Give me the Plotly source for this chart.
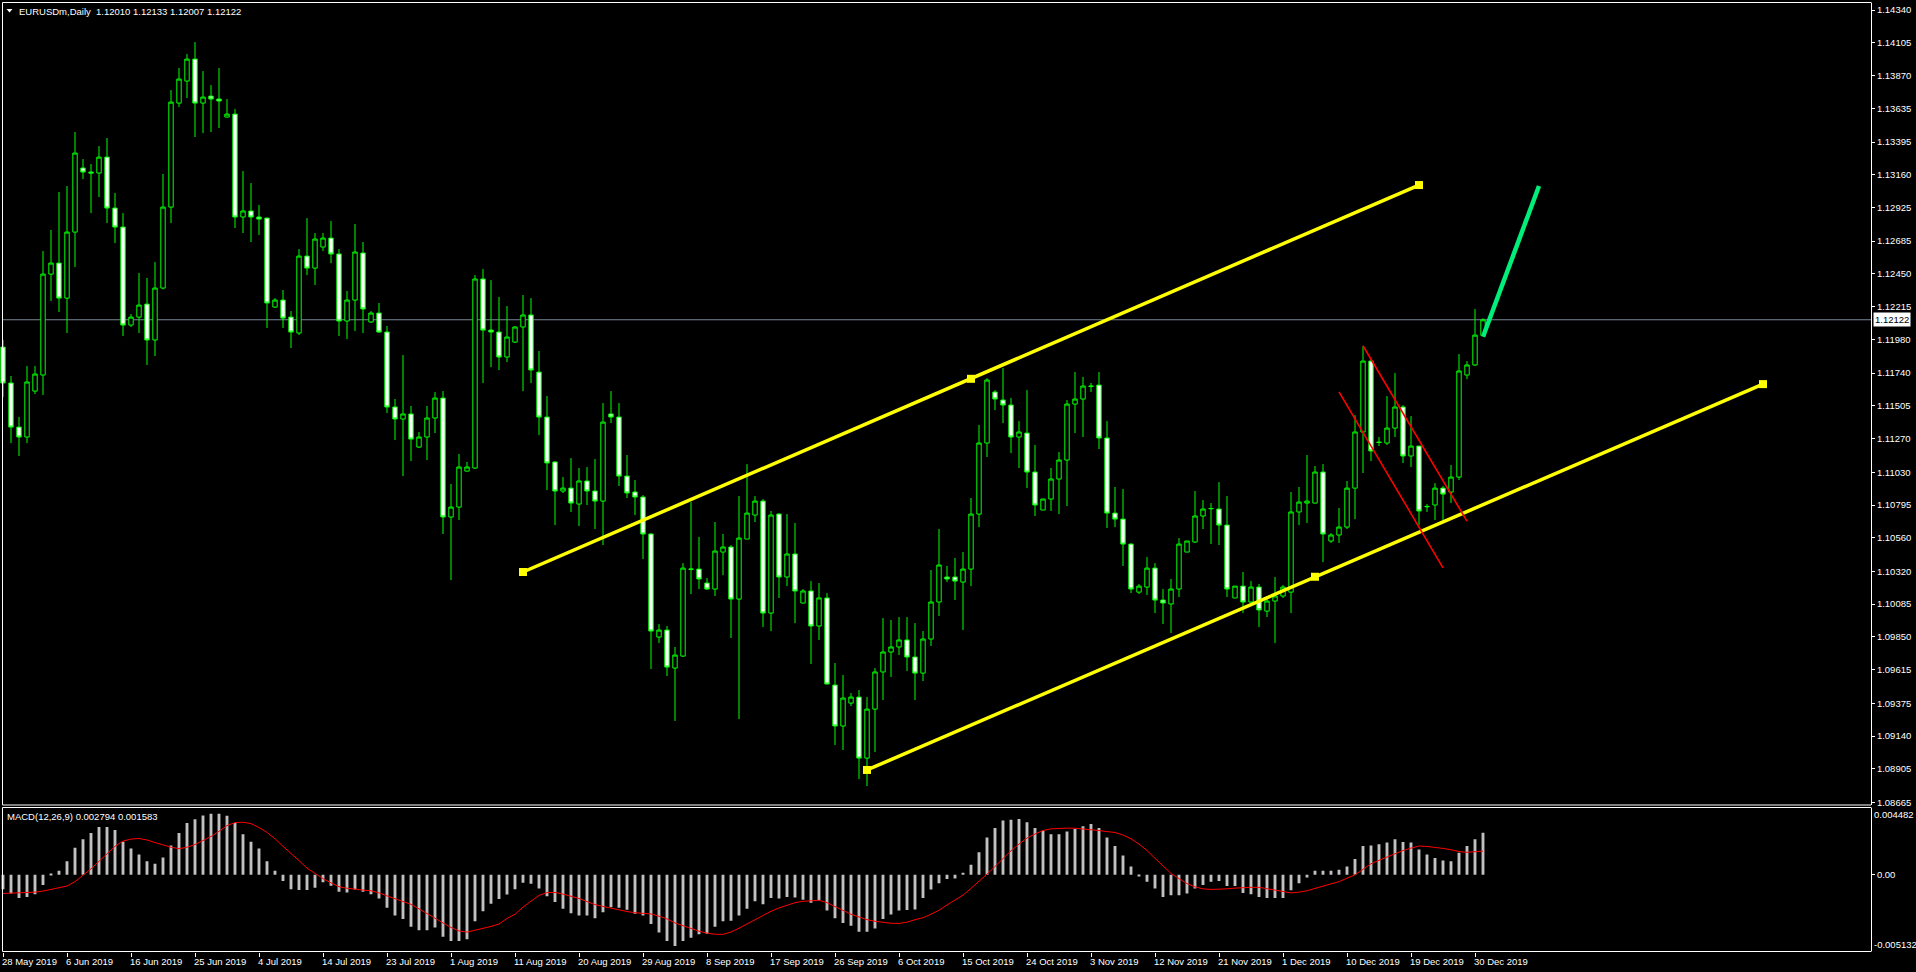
import plotly.graph_objects as go
import pandas as pd

# ---------------- data ----------------
SYMBOL_TITLE = "EURUSDm,Daily\u00a0\u00a01.12010 1.12133 1.12007 1.12122"
MACD_TITLE = "MACD(12,26,9) 0.002794 0.001583"

# broker daily bars: Sunday..Friday, no bar on 25 Dec
_days = pd.date_range("2019-05-28", "2019-12-31", freq="D")
DATES = [d for d in _days if d.weekday() != 5 and not (d.month == 12 and d.day == 25)]
DATE_LABELS = [f"{d.day} {d.strftime('%b')} {d.year}" for d in DATES]
TICK_BARS = list(range(0, len(DATES), 8))

OPEN = [1.11926,1.11669,1.11353,1.11282,1.11611,1.11726,1.12449,1.12528,1.12277,1.12750,
1.13209,1.13180,1.13173,1.13287,1.12922,1.12786,1.12084,1.12141,1.12234,1.11977,
1.12349,1.12929,1.13674,1.13832,1.13989,1.13674,1.13724,1.13703,1.13574,1.13595,
1.12858,1.12901,1.12858,1.12850,1.12213,1.12263,1.12141,1.12027,1.12578,1.12492,
1.12643,1.12707,1.12593,1.12113,1.12263,1.12600,1.12106,1.12170,1.12034,1.11497,
1.11411,1.11447,1.11210,1.11282,1.11418,1.11561,1.10709,1.10780,1.11038,1.11060,
1.12414,1.12048,1.12034,1.11855,1.11962,1.12070,1.12156,1.11747,1.11425,1.11103,
1.10895,1.10916,1.10802,1.10967,1.10895,1.10823,1.11447,1.11425,1.11002,1.10888,
1.10852,1.10587,1.09849,1.09899,1.09627,1.09713,1.10336,1.10336,1.10236,1.10193,
1.10458,1.10494,1.10121,1.10551,1.10723,1.10823,1.10021,1.10730,1.10279,1.10444,
1.10093,1.10179,1.09928,1.10129,1.09505,1.09212,1.09376,1.09419,1.08982,1.09333,
1.09599,1.09742,1.09778,1.09828,1.09706,1.09591,1.09835,1.10100,1.10279,1.10279,
1.10243,1.10336,1.10730,1.11239,1.11604,1.11547,1.11511,1.11282,1.11310,1.11031,
1.10759,1.10838,1.10981,1.11117,1.11518,1.11554,1.11647,1.11654,1.11275,1.10737,
1.10694,1.10515,1.10171,1.10207,1.10343,1.10114,1.10086,1.10193,1.10458,1.10530,
1.10716,1.10770,1.10766,1.10651,1.10129,1.10214,1.10100,1.10207,1.10035,1.10107,
1.10143,1.10171,1.10745,1.10809,1.10809,1.11031,1.10537,1.10580,1.10637,1.10916,
1.11318,1.11826,1.11246,1.11239,1.11346,1.11497,1.11146,1.11217,1.10785,1.10795,
1.10916,1.10888,1.10995,1.11726,1.11798,1.12010]

HIGH = [1.11977,1.11719,1.11425,1.11790,1.11790,1.12614,1.12765,1.13037,1.13080,1.13467,
1.13273,1.13237,1.13366,1.13424,1.13030,1.12886,1.12163,1.12457,1.12421,1.12535,
1.13166,1.13767,1.13925,1.14025,1.14111,1.13903,1.13803,1.13925,1.13703,1.13631,
1.13187,1.13101,1.12944,1.12855,1.12277,1.12335,1.12184,1.12628,1.12850,1.12743,
1.12743,1.12829,1.12628,1.12328,1.12808,1.12679,1.12184,1.12242,1.12077,1.11554,
1.11869,1.11504,1.11318,1.11504,1.11604,1.11611,1.10945,1.11160,1.11103,1.12442,
1.12485,1.12406,1.12285,1.12220,1.12077,1.12299,1.12277,1.11898,1.11575,1.11110,
1.10995,1.11131,1.11060,1.11067,1.11124,1.11525,1.11611,1.11525,1.11153,1.10974,
1.10866,1.10594,1.09942,1.09928,1.09778,1.10379,1.10816,1.10566,1.10272,1.10673,
1.10587,1.10508,1.10859,1.11088,1.10859,1.10838,1.10752,1.10737,1.10730,1.10666,
1.10193,1.10250,1.10236,1.10164,1.09663,1.09577,1.09448,1.09470,1.09419,1.09627,
1.09985,1.09971,1.09992,1.09992,1.09949,1.09892,1.10329,1.10623,1.10358,1.10415,
1.10458,1.10845,1.11368,1.11704,1.11618,1.11776,1.11561,1.11396,1.11618,1.11225,
1.10838,1.11060,1.11174,1.11547,1.11747,1.11712,1.11669,1.11747,1.11396,1.10924,
1.10909,1.10520,1.10229,1.10422,1.10379,1.10193,1.10265,1.10558,1.10537,1.10895,
1.10830,1.10809,1.10959,1.10859,1.10214,1.10315,1.10250,1.10229,1.10136,1.10279,
1.10222,1.10888,1.10924,1.11153,1.11074,1.11088,1.10594,1.10773,1.10967,1.11439,
1.11934,1.11840,1.11282,1.11575,1.11740,1.11511,1.11432,1.11220,1.10802,1.10952,
1.10931,1.11081,1.11876,1.11826,1.12199,1.12133]

LOW = [1.11568,1.11239,1.11146,1.11239,1.11590,1.11583,1.12256,1.12177,1.12027,1.12500,
1.13130,1.12886,1.13001,1.12815,1.12671,1.12005,1.12070,1.12027,1.11798,1.11862,
1.12340,1.12815,1.13646,1.13710,1.13431,1.13459,1.13467,1.13495,1.13570,1.12779,
1.12743,1.12679,1.12729,1.12063,1.12206,1.12063,1.11919,1.12012,1.12442,1.12371,
1.12614,1.12528,1.12005,1.11984,1.12041,1.12027,1.12100,1.12027,1.11454,1.11260,
1.11002,1.11110,1.11203,1.11117,1.11310,1.10587,1.10257,1.10687,1.11035,1.11053,
1.11669,1.11783,1.11762,1.11819,1.11955,1.11611,1.11669,1.11296,1.10902,1.10651,
1.10881,1.10745,1.10644,1.10795,1.10623,1.10508,1.11382,1.10931,1.10845,1.10723,
1.10408,1.09620,1.09806,1.09570,1.09248,1.09706,1.10157,1.10193,1.10186,1.10143,
1.10293,1.09842,1.09262,1.10551,1.10673,1.09921,1.09892,1.10129,1.10214,1.09949,
1.10090,1.09656,1.09828,1.09510,1.09076,1.09040,1.09355,1.08832,1.08782,1.09025,
1.09398,1.09563,1.09720,1.09606,1.09398,1.09534,1.09785,1.10000,1.10243,1.10114,
1.09899,1.10214,1.10637,1.11139,1.11475,1.11382,1.11167,1.11060,1.10916,1.10716,
1.10759,1.10752,1.10730,1.10788,1.11310,1.11282,1.11604,1.11196,1.10630,1.10637,
1.10358,1.10164,1.10157,1.10150,1.10021,1.09942,1.09878,1.10136,1.10458,1.10523,
1.10623,1.10515,1.10508,1.10136,1.10129,1.10021,1.10093,1.09921,1.09992,1.09806,
1.10129,1.10021,1.10651,1.10666,1.10805,1.10386,1.10523,1.10523,1.10623,1.10694,
1.11024,1.11110,1.11217,1.11225,1.11282,1.11096,1.11067,1.10651,1.10745,1.10687,
1.10687,1.10809,1.10974,1.11697,1.11790,1.12007]

CLOSE = [1.11669,1.11353,1.11282,1.11676,1.11733,1.12449,1.12528,1.12277,1.12750,1.13316,
1.13180,1.13173,1.13287,1.12922,1.12786,1.12084,1.12141,1.12227,1.11977,1.12349,
1.12929,1.13681,1.13846,1.13989,1.13674,1.13717,1.13703,1.13689,1.13595,1.12858,
1.12901,1.12858,1.12843,1.12242,1.12263,1.12134,1.12034,1.12578,1.12492,1.12700,
1.12707,1.12593,1.12113,1.12263,1.12607,1.12199,1.12170,1.12034,1.11497,1.11411,
1.11447,1.11267,1.11282,1.11418,1.11561,1.10709,1.10780,1.11067,1.11067,1.12414,
1.12048,1.12034,1.11855,1.11998,1.12070,1.12156,1.11762,1.11425,1.11096,1.10895,
1.10916,1.10809,1.10967,1.10895,1.10823,1.11389,1.11425,1.11002,1.10881,1.10852,
1.10587,1.09892,1.09899,1.09634,1.09720,1.10343,1.10335,1.10265,1.10193,1.10465,
1.10494,1.10121,1.10558,1.10737,1.10823,1.10021,1.10723,1.10279,1.10444,1.10179,
1.10179,1.09928,1.10129,1.09513,1.09212,1.09412,1.09419,1.08982,1.09333,1.09599,
1.09742,1.09778,1.09828,1.09706,1.09591,1.09835,1.10100,1.10365,1.10265,1.10250,
1.10336,1.10730,1.11239,1.11690,1.11554,1.11511,1.11282,1.11318,1.11031,1.10795,
1.10838,1.10981,1.11117,1.11518,1.11554,1.11647,1.11645,1.11275,1.10737,1.10694,
1.10515,1.10193,1.10214,1.10343,1.10114,1.10093,1.10193,1.10515,1.10537,1.10716,
1.10766,1.10769,1.10651,1.10193,1.10214,1.10100,1.10207,1.10043,1.10107,1.10143,
1.10207,1.10745,1.10816,1.10823,1.11031,1.10587,1.10580,1.10637,1.10916,1.11318,
1.11826,1.11182,1.11243,1.11346,1.11497,1.11146,1.11217,1.10752,1.10783,1.10916,
1.10873,1.10995,1.11755,1.11798,1.12012,1.12122]

MACD_MAIN = [-0.00095,-0.00124,-0.00154,-0.00147,-0.00129,-0.00068,0.00003,0.00027,0.00090,0.00181,
0.00237,0.00278,0.00318,0.00318,0.00298,0.00221,0.00176,0.00135,0.00090,0.00074,
0.00115,0.00196,0.00278,0.00345,0.00370,0.00395,0.00406,0.00406,0.00393,0.00345,
0.00271,0.00221,0.00176,0.00090,0.00027,-0.00041,-0.00095,-0.00100,-0.00100,-0.00086,
-0.00049,-0.00072,-0.00113,-0.00117,-0.00097,-0.00113,-0.00129,-0.00158,-0.00219,-0.00271,
-0.00293,-0.00345,-0.00368,-0.00368,-0.00350,-0.00411,-0.00440,-0.00440,-0.00429,-0.00309,
-0.00242,-0.00192,-0.00160,-0.00131,-0.00095,-0.00052,-0.00059,-0.00090,-0.00142,-0.00181,
-0.00225,-0.00255,-0.00271,-0.00271,-0.00289,-0.00248,-0.00215,-0.00219,-0.00232,-0.00259,
-0.00271,-0.00327,-0.00384,-0.00440,-0.00474,-0.00440,-0.00418,-0.00395,-0.00391,-0.00345,
-0.00309,-0.00305,-0.00271,-0.00225,-0.00176,-0.00196,-0.00154,-0.00158,-0.00147,-0.00151,
-0.00165,-0.00185,-0.00169,-0.00237,-0.00289,-0.00320,-0.00339,-0.00379,-0.00379,-0.00357,
-0.00293,-0.00264,-0.00237,-0.00233,-0.00230,-0.00154,-0.00097,-0.00056,-0.00027,-0.00025,
0.00014,0.00068,0.00151,0.00248,0.00311,0.00361,0.00366,0.00372,0.00350,0.00311,
0.00293,0.00271,0.00271,0.00289,0.00305,0.00323,0.00339,0.00311,0.00248,0.00192,
0.00129,0.00056,-0.00007,-0.00045,-0.00090,-0.00147,-0.00135,-0.00135,-0.00124,-0.00090,
-0.00068,-0.00045,-0.00041,-0.00074,-0.00074,-0.00120,-0.00129,-0.00147,-0.00154,-0.00154,
-0.00154,-0.00102,-0.00056,-0.00018,0.00027,0.00027,0.00027,0.00034,0.00056,0.00106,
0.00192,0.00196,0.00203,0.00215,0.00237,0.00219,0.00215,0.00169,0.00135,0.00113,
0.00095,0.00090,0.00147,0.00192,0.00237,0.002794]

MACD_SIGNAL = [-0.00124,-0.00122,-0.00120,-0.00118,-0.00115,-0.00108,-0.00098,-0.00087,-0.00074,-0.00045,
-0.00005,0.00040,0.00090,0.00142,0.00190,0.00225,0.00238,0.00242,0.00232,0.00215,
0.00198,0.00184,0.00174,0.00184,0.00202,0.00228,0.00255,0.00290,0.00328,0.00348,
0.00350,0.00341,0.00315,0.00282,0.00240,0.00190,0.00145,0.00095,0.00045,0.00010,
-0.00025,-0.00053,-0.00079,-0.00089,-0.00097,-0.00101,-0.00106,-0.00120,-0.00140,-0.00160,
-0.00178,-0.00196,-0.00226,-0.00259,-0.00289,-0.00320,-0.00350,-0.00373,-0.00381,-0.00370,
-0.00358,-0.00343,-0.00327,-0.00290,-0.00262,-0.00215,-0.00175,-0.00137,-0.00118,-0.00117,
-0.00128,-0.00143,-0.00157,-0.00178,-0.00198,-0.00210,-0.00222,-0.00233,-0.00244,-0.00252,
-0.00256,-0.00260,-0.00275,-0.00293,-0.00320,-0.00340,-0.00360,-0.00375,-0.00388,-0.00395,
-0.00396,-0.00380,-0.00355,-0.00326,-0.00298,-0.00268,-0.00242,-0.00220,-0.00200,-0.00185,
-0.00176,-0.00170,-0.00169,-0.00185,-0.00212,-0.00235,-0.00262,-0.00280,-0.00298,-0.00309,
-0.00318,-0.00322,-0.00323,-0.00315,-0.00298,-0.00285,-0.00262,-0.00235,-0.00200,-0.00165,
-0.00135,-0.00090,-0.00045,0.00005,0.00056,0.00108,0.00160,0.00205,0.00245,0.00272,
0.00295,0.00306,0.00311,0.00311,0.00310,0.00306,0.00300,0.00295,0.00288,0.00282,
0.00265,0.00240,0.00205,0.00162,0.00110,0.00058,0.00010,-0.00025,-0.00058,-0.00080,
-0.00093,-0.00097,-0.00096,-0.00093,-0.00088,-0.00083,-0.00083,-0.00083,-0.00092,-0.00102,
-0.00111,-0.00120,-0.00115,-0.00106,-0.00090,-0.00074,-0.00060,-0.00045,-0.00022,0.00000,
0.00037,0.00074,0.00097,0.00120,0.00141,0.00162,0.00178,0.00192,0.00189,0.00184,
0.00176,0.00167,0.00155,0.00150,0.00152,0.001583]

PRICE_TICKS = [1.14340,1.14105,1.13870,1.13635,1.13395,1.13160,1.12925,1.12685,1.12450,1.12215,
1.11980,1.11740,1.11505,1.11270,1.11030,1.10795,1.10560,1.10320,1.10085,1.09850,
1.09615,1.09375,1.09140,1.08905,1.08665]
LAST_PRICE = 1.12122
MACD_MAX = 0.004482
MACD_MIN = -0.005132

# drawn objects (bar index, price)
CHANNEL_UPPER = ([65, 121, 177], [1.10315, 1.11699, 1.13087])
CHANNEL_LOWER = ([108, 164, 220], [1.08897, 1.10281, 1.11661])
RED_LINE_1 = ([170, 183], [1.11936, 1.10679])
RED_LINE_2 = ([167, 180], [1.11606, 1.10345])
GREEN_ARROW = ([185, 192], [1.12000, 1.13080])

# ---------------- layout helpers ----------------
W, H = 1916, 972
ML, MR, MT, MB = 0, 45, 3, 20
PW = W - ML - MR
PH = H - MT - MB


def px(xp):
    return (xp - ML) / PW


def py(yp):
    return (H - MB - yp) / PH


idx = list(range(len(DATES)))
FONT = "Tahoma, 'Liberation Sans', Arial, sans-serif"
WHITE = "#FFFFFF"

fig = go.Figure()

fig.add_trace(go.Candlestick(
    x=idx, open=OPEN, high=HIGH, low=LOW, close=CLOSE,
    increasing=dict(line=dict(color="#00FF00", width=1), fillcolor="#000000"),
    decreasing=dict(line=dict(color="#00FF00", width=1), fillcolor="#FFFFFF"),
    whiskerwidth=0, hoverinfo="skip", showlegend=False,
    xaxis="x", yaxis="y"))

# channel lines
for xs, ys in (CHANNEL_UPPER, CHANNEL_LOWER):
    fig.add_trace(go.Scatter(x=[xs[0], xs[-1]], y=[ys[0], ys[-1]], mode="lines",
                             line=dict(color="#FFFF00", width=3.5),
                             hoverinfo="skip", showlegend=False, xaxis="x", yaxis="y"))
    fig.add_trace(go.Scatter(x=xs, y=ys, mode="markers",
                             marker=dict(symbol="square", size=8, color="#FFFF00"),
                             hoverinfo="skip", showlegend=False, xaxis="x", yaxis="y"))

for xs, ys in (RED_LINE_1, RED_LINE_2):
    fig.add_trace(go.Scatter(x=xs, y=ys, mode="lines",
                             line=dict(color="#FF0000", width=1.6),
                             hoverinfo="skip", showlegend=False, xaxis="x", yaxis="y"))

fig.add_trace(go.Scatter(x=GREEN_ARROW[0], y=GREEN_ARROW[1], mode="lines",
                         line=dict(color="#00EE7A", width=4.5),
                         hoverinfo="skip", showlegend=False, xaxis="x", yaxis="y"))

# MACD
fig.add_trace(go.Bar(x=idx, y=MACD_MAIN, width=0.36,
                     marker=dict(color="#C0C0C0", line=dict(width=0)),
                     hoverinfo="skip", showlegend=False, xaxis="x", yaxis="y2"))
fig.add_trace(go.Scatter(x=idx, y=MACD_SIGNAL, mode="lines",
                         line=dict(color="#FF0000", width=1),
                         hoverinfo="skip", showlegend=False, xaxis="x", yaxis="y2"))

# ---------------- shapes ----------------
shapes = []
line_w = dict(color=WHITE, width=1)
# bid line
shapes.append(dict(type="line", xref="paper", yref="y", x0=px(2.5), x1=1, y0=LAST_PRICE, y1=LAST_PRICE,
                   line=dict(color="#778899", width=1), layer="below"))
# frames
shapes += [
    dict(type="line", xref="paper", yref="paper", x0=px(2.5), x1=1, y0=py(2.5), y1=py(2.5), line=line_w),
    dict(type="line", xref="paper", yref="paper", x0=px(2.5), x1=1, y0=py(805), y1=py(805), line=line_w),
    dict(type="line", xref="paper", yref="paper", x0=px(2.5), x1=1, y0=py(807.5), y1=py(807.5), line=line_w),
    dict(type="line", xref="paper", yref="paper", x0=px(2.5), x1=1, y0=py(951.5), y1=py(951.5), line=line_w),
    dict(type="line", xref="paper", yref="paper", x0=px(2.5), x1=px(2.5), y0=py(2.5), y1=py(805), line=line_w),
    dict(type="line", xref="paper", yref="paper", x0=px(2.5), x1=px(2.5), y0=py(807.5), y1=py(951.5), line=line_w),
    dict(type="line", xref="paper", yref="paper", x0=px(1871.5), x1=px(1871.5), y0=py(2.5), y1=py(805), line=line_w),
    dict(type="line", xref="paper", yref="paper", x0=px(1871.5), x1=px(1871.5), y0=py(807.5), y1=py(951.5), line=line_w),
]
# title triangle
shapes.append(dict(type="path", xref="paper", yref="paper",
                   path=f"M {px(6.5)} {py(9)} L {px(12.5)} {py(9)} L {px(9.5)} {py(12.5)} Z",
                   fillcolor=WHITE, line=dict(width=0)))

# ---------------- annotations ----------------
ann = []
ann.append(dict(text=SYMBOL_TITLE, xref="paper", yref="paper", x=px(17), y=py(11.5),
                xanchor="left", yanchor="middle", showarrow=False,
                font=dict(family=FONT, size=9.5, color=WHITE)))
ann.append(dict(text=MACD_TITLE, xref="paper", yref="paper", x=px(5), y=py(816),
                xanchor="left", yanchor="middle", showarrow=False,
                font=dict(family=FONT, size=9.5, color=WHITE)))
for b in TICK_BARS:
    ann.append(dict(text=DATE_LABELS[b], xref="x", yref="paper", x=b, y=py(961),
                    xanchor="left", yanchor="middle", showarrow=False, borderpad=0, xshift=-2,
                    font=dict(family=FONT, size=9.5, color=WHITE)))
ann.append(dict(text=f"{LAST_PRICE:.5f}", xref="paper", yref="y", x=px(1872.5), y=LAST_PRICE,
                xanchor="left", yanchor="middle", showarrow=False, bgcolor=WHITE, borderpad=1,
                font=dict(family=FONT, size=9.5, color="#000000")))
ann.append(dict(text=f"{MACD_MAX:.6f}", xref="paper", yref="paper", x=px(1873), y=py(814),
                xanchor="left", yanchor="middle", showarrow=False, borderpad=0,
                font=dict(family=FONT, size=9.5, color=WHITE)))
ann.append(dict(text=f"{MACD_MIN:.6f}", xref="paper", yref="paper", x=px(1873), y=py(944),
                xanchor="left", yanchor="middle", showarrow=False, borderpad=0,
                font=dict(family=FONT, size=9.5, color=WHITE)))

main_bottom = py(805)
macd_top = py(807.5)
y_top_price = 1.14391
y_bot_price = 1.08646

fig.update_layout(
    width=W, height=H,
    margin=dict(l=ML, r=MR, t=MT, b=MB, pad=0),
    paper_bgcolor="#000000", plot_bgcolor="#000000",
    showlegend=False, hovermode=False,
    boxgap=0.45, boxgroupgap=0,
    shapes=shapes, annotations=ann,
    xaxis=dict(range=[-0.375, (1871 - 3) / 8], anchor="y2", showgrid=False, zeroline=False,
               showline=False, rangeslider=dict(visible=False),
               tickvals=TICK_BARS, ticktext=[""] * len(TICK_BARS), showticklabels=False,
               ticks="outside", ticklen=4, tickcolor=WHITE, tickwidth=1),
    yaxis=dict(domain=[main_bottom, 1], range=[y_bot_price, y_top_price], side="right", anchor="x",
               showgrid=False, zeroline=False, showline=False,
               tickvals=PRICE_TICKS, ticktext=[f"{v:.5f}" for v in PRICE_TICKS],
               ticks="outside", ticklen=3, tickcolor=WHITE, tickwidth=1,
               tickfont=dict(family=FONT, size=9.5, color=WHITE)),
    yaxis2=dict(domain=[0, macd_top], range=[MACD_MIN, MACD_MAX], side="right", anchor="x",
                showgrid=False, zeroline=False, showline=False,
                tickvals=[0.0], ticktext=["0.00"],
                ticks="outside", ticklen=3, tickcolor=WHITE, tickwidth=1,
                tickfont=dict(family=FONT, size=9.5, color=WHITE)),
)

fig.write_html("out.html", config={"displayModeBar": False},
               post_script="document.body.style.margin='0';document.body.style.overflow='hidden';")
